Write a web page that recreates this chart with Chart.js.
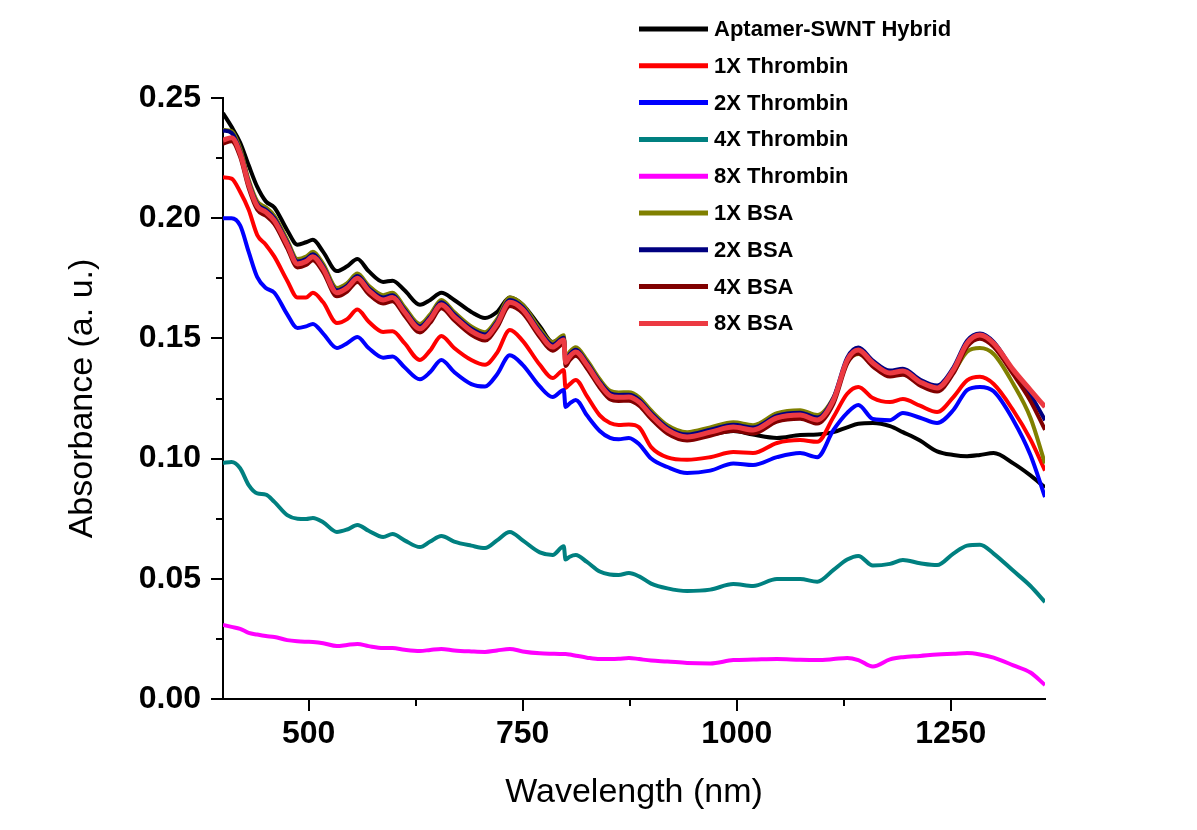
<!DOCTYPE html>
<html>
<head>
<meta charset="utf-8">
<script src="https://cdn.jsdelivr.net/npm/chart.js@4.4.1/dist/chart.umd.min.js"></script>
<style>
  html, body { margin: 0; padding: 0; background: #fff; }
  #wrap { width: 1197px; height: 830px; }
</style>
</head>
<body>
<div id="wrap"><canvas id="spectra" width="1197" height="830"></canvas></div>
<script>
// UV-vis-NIR absorbance of aptamer-SWNT hybrid with thrombin / BSA

const wavelength = [
  400, 410, 420, 430, 440, 450, 460, 475,
  487, 497, 505, 517, 533, 545, 557, 570,
  587, 598, 612, 630, 642, 655, 670, 690,
  706, 720, 735, 750, 770, 785, 798, 800,
  805, 812, 825, 840, 852, 862, 874, 886,
  900, 919, 942, 969, 996, 1019, 1047, 1074,
  1094, 1113, 1129, 1142, 1159, 1179, 1194, 1214,
  1234, 1253, 1269, 1284, 1300, 1323, 1343, 1360,
];

const hybrid = [
  .2437, .238, .2315, .222, .213, .207, .2045, .195,
  .189, .190, .191, .186, .178, .180, .183, .178,
  .1735, .174, .170, .164, .166, .169, .166, .161,
  .1585, .161, .167, .164, .155, .1485, .1505, .142,
  .144, .145, .1395, .132, .127, .1255, .1256, .1235,
  .118, .112, .1095, .110, .1115, .110, .1086, .1098,
  .110, .111, .113, .1145, .1148, .1135, .111, .1075,
  .103, .1015, .101, .1015, .1023, .098, .093, .088,
];

const thrombin1x = [
  .217, .2165, .211, .2035, .193, .189, .184, .174,
  .167, .167, .169, .165, .1564, .158, .162, .157,
  .1527, .153, .148, .141, .145, .151, .146, .141,
  .139, .144, .1535, .149, .139, .1335, .1369, .1294,
  .131, .1327, .126, .118, .1148, .114, .1142, .113,
  .1048, .1005, .0995, .1006, .1027, .1023, .1065, .1077,
  .107, .1173, .127, .1298, .1252, .1235, .1248, .122,
  .1194, .1256, .1325, .134, .131, .120, .108, .095,
];

const thrombin2x = [
  .200, .200, .197, .186, .1755, .171, .169, .160,
  .1543, .155, .156, .152, .146, .148, .1506, .146,
  .142, .1425, .138, .133, .136, .141, .136, .131,
  .130, .135, .143, .139, .130, .1256, .1285, .1215,
  .123, .1244, .118, .1115, .1086, .108, .1086, .106,
  .100, .0965, .094, .095, .098, .0973, .1006, .1023,
  .1006, .1119, .119, .1223, .1165, .116, .119, .117,
  .1148, .1202, .1285, .1298, .128, .116, .1015, .084,
];

const thrombin4x = [
  .0982, .0986, .096, .089, .0855, .085, .082, .0765,
  .075, .0749, .0753, .0735, .0695, .0705, .0724, .070,
  .0674, .0686, .066, .0632, .0655, .0678, .0655, .0638,
  .0628, .066, .0695, .066, .061, .0599, .0635, .058,
  .0592, .0599, .057, .053, .0518, .0516, .0524, .051,
  .048, .046, .0449, .0455, .0478, .047, .0499, .0499,
  .0488, .0537, .058, .0595, .0555, .0562, .0578, .0565,
  .0557, .0605, .0638, .0642, .0605, .0533, .047, .0403,
];

const thrombin8x = [
  .0308, .030, .0292, .0275, .0268, .0262, .0258, .0245,
  .024, .0238, .0237, .0232, .022, .0225, .0229, .022,
  .0212, .0212, .0205, .020, .0204, .0208, .0202, .0198,
  .0196, .0202, .0208, .0198, .019, .0188, .0187, .0187,
  .0185, .018, .0172, .0166, .0166, .0167, .0171, .0166,
  .016, .0156, .015, .0148, .0162, .0164, .0166, .0163,
  .0162, .0166, .0171, .0162, .0135, .0165, .0174, .0179,
  .0185, .0188, .0191, .0185, .0172, .014, .011, .0058,
];

const bsa1x = [
  .2367, .2362, .229, .216, .207, .2045, .201, .191,
  .183, .184, .186, .181, .171, .173, .177, .172,
  .168, .169, .163, .156, .160, .166, .161, .155,
  .1526, .158, .167, .164, .154, .1484, .1513, .142,
  .1445, .1463, .141, .133, .1282, .1275, .1276, .1255,
  .120, .1139, .111, .113, .1151, .1139, .1189, .1201,
  .1181, .1254, .140, .1435, .139, .1355, .1365, .132,
  .130, .136, .1445, .146, .1435, .131, .117, .098,
];

const bsa2x = [
  .2365, .2355, .228, .215, .206, .2035, .200, .190,
  .182, .183, .185, .180, .170, .172, .176, .171,
  .167, .168, .162, .155, .159, .165, .160, .154,
  .1516, .157, .166, .163, .153, .1474, .1503, .141,
  .1435, .1453, .140, .132, .1272, .1265, .1266, .1245,
  .119, .1129, .110, .112, .1141, .1129, .1179, .1191,
  .1171, .1254, .142, .1462, .1408, .1366, .1374, .1329,
  .1304, .1379, .149, .1520, .1485, .1365, .1265, .116,
];

const bsa4x = [
  .231, .232, .2255, .2125, .2035, .201, .1975, .1875,
  .1795, .1805, .1825, .1775, .1675, .1695, .1735, .1685,
  .1645, .1655, .1595, .1525, .1565, .1625, .1575, .1515,
  .1491, .1545, .1635, .1605, .1505, .1449, .1478, .1385,
  .141, .1428, .1375, .1295, .1247, .124, .1241, .122,
  .1165, .1104, .1075, .1095, .1116, .1104, .1154, .1166,
  .1146, .1229, .1395, .1437, .1383, .1341, .1349, .1304,
  .1279, .1354, .1465, .1499, .1465, .135, .124, .112,
];

const bsa8x = [
  .2325, .2335, .227, .214, .205, .2025, .199, .189,
  .181, .182, .184, .179, .169, .171, .175, .170,
  .166, .167, .161, .154, .158, .164, .159, .153,
  .1506, .156, .165, .162, .152, .1464, .1493, .140,
  .1425, .1443, .139, .131, .1262, .1255, .1256, .1235,
  .118, .1119, .109, .111, .1131, .1119, .1169, .1181,
  .1161, .1244, .141, .1452, .1398, .1356, .1364, .1319,
  .1294, .1369, .148, .1514, .148, .1369, .1285, .1215,
];

const seriesLabels = [
  'Aptamer-SWNT Hybrid', '1X Thrombin', '2X Thrombin', '4X Thrombin', '8X Thrombin',
  '1X BSA', '2X BSA', '4X BSA', '8X BSA',
];
const seriesValues = [hybrid, thrombin1x, thrombin2x, thrombin4x, thrombin8x, bsa1x, bsa2x, bsa4x, bsa8x];
const seriesColors = ['#000000', '#ff0000', '#0000ff', '#008080', '#ff00ff', '#808000', '#000080', '#800000', '#ec3a42'];

const xTicks = [500, 750, 1000, 1250];
const xMinorTicks = [625, 875, 1125];
const yTicks = [0, 0.05, 0.10, 0.15, 0.20, 0.25];
const yMinorTicks = [0.025, 0.075, 0.125, 0.175, 0.225];

const FONT = 'Arial, "Liberation Sans", sans-serif';
Chart.defaults.font.family = FONT;
Chart.defaults.color = '#000';

// minor ticks + in-plot legend, drawn after the chart
const extras = {
  id: 'extras',
  afterDraw(chart) {
    const ctx = chart.ctx;
    const xs = chart.scales.x, ys = chart.scales.y;
    const area = chart.chartArea;
    ctx.save();
    ctx.strokeStyle = '#000';
    ctx.lineWidth = 2;
    ctx.beginPath();
    for (const v of xMinorTicks) {
      const px = Math.round(xs.getPixelForValue(v));
      ctx.moveTo(px, area.bottom);
      ctx.lineTo(px, area.bottom + 7);
    }
    for (const v of yMinorTicks) {
      const py = Math.round(ys.getPixelForValue(v));
      ctx.moveTo(area.left, py);
      ctx.lineTo(area.left - 7, py);
    }
    ctx.stroke();

    // legend
    ctx.font = 'bold 22px ' + FONT;
    ctx.textBaseline = 'middle';
    ctx.textAlign = 'left';
    seriesLabels.forEach((label, i) => {
      const y = 29 + i * 36.8;
      ctx.strokeStyle = seriesColors[i];
      ctx.lineWidth = 5;
      ctx.beginPath();
      ctx.moveTo(639, y);
      ctx.lineTo(708, y);
      ctx.stroke();
      ctx.fillStyle = '#000';
      ctx.fillText(label, 714, y + 1);
    });
    ctx.restore();
  },
};

new Chart(document.getElementById('spectra'), {
  type: 'line',
  data: {
    datasets: seriesValues.map((vals, i) => ({
      label: seriesLabels[i],
      data: wavelength.map((w, j) => ({ x: w, y: vals[j] })),
      borderColor: seriesColors[i],
      borderWidth: i === 8 ? 5 : 4,
      pointRadius: 0,
      cubicInterpolationMode: 'monotone',
      order: 8 - i,
    })),
  },
  options: {
    responsive: false,
    animation: false,
    devicePixelRatio: 1,
    layout: { padding: { left: 0, top: 98, right: 152, bottom: 0 } },
    plugins: {
      legend: { display: false },
      tooltip: { enabled: false },
    },
    scales: {
      x: {
        type: 'linear',
        min: 400,
        max: 1360,
        afterBuildTicks: s => { s.ticks = xTicks.map(v => ({ value: v })); },
        afterFit: s => { s.height = 131; },
        ticks: {
          font: { size: 32, weight: 'bold' },
          padding: 4,
          maxRotation: 0,
          callback: v => String(v),
        },
        grid: { drawOnChartArea: false, drawTicks: true, tickLength: 12, color: '#000', lineWidth: 2 },
        border: { display: true, color: '#000', width: 2 },
        title: {
          display: true,
          text: 'Wavelength (nm)',
          font: { size: 34 },
          padding: { top: 0, bottom: 17 },
        },
      },
      y: {
        type: 'linear',
        min: 0,
        max: 0.25,
        afterBuildTicks: s => { s.ticks = yTicks.map(v => ({ value: v })); },
        afterFit: s => { s.width = 223; },
        ticks: {
          font: { size: 32, weight: 'bold' },
          padding: 10,
          callback: v => v.toFixed(2),
        },
        grid: { drawOnChartArea: false, drawTicks: true, tickLength: 12, color: '#000', lineWidth: 2 },
        border: { display: true, color: '#000', width: 2 },
        title: {
          display: true,
          text: 'Absorbance (a. u.)',
          font: { size: 34 },
          padding: { top: 62, bottom: 0 },
        },
      },
    },
  },
  plugins: [extras],
});
</script>
</body>
</html>
